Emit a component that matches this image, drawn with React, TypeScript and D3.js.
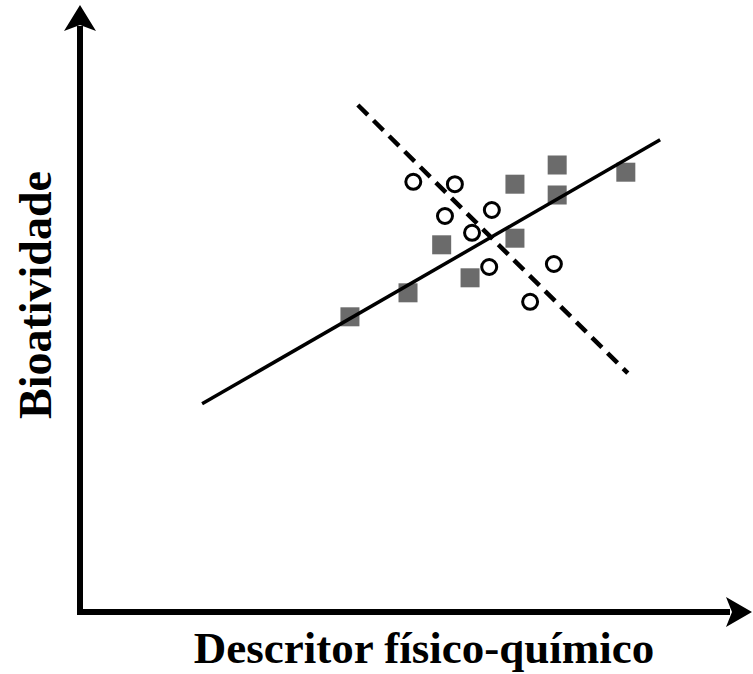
import React, { useEffect, useRef } from 'react'
import * as d3 from 'd3'

// grupo que segue a tendência (quadrados)
const squaresX = [40.9, 49.7, 54.8, 59.1, 65.9, 65.9, 72.3, 72.3, 82.7]
const squaresY = [49.2, 53.2, 61.2, 55.7, 62.3, 71.3, 74.5, 69.5, 73.3]

// grupo oposto (círculos)
const circlesX = [50.5, 56.8, 55.3, 62.4, 59.4, 62.0, 71.8, 68.2]
const circlesY = [71.7, 71.3, 66.0, 67.0, 63.2, 57.5, 58.0, 51.7]

// retas de regressão: [x0, y0, x1, y1]
const solidLine = [18.5, 34.7, 87.9, 78.7]
const dashedLine = [42.1, 84.5, 83.0, 39.8]

const xLabel = 'Descritor físico-químico'
const yLabel = 'Bioatividade'

const App = () => {
  const svgRef = useRef<SVGSVGElement>(null)

  useEffect(() => {
    const width = 753
    const height = 674
    const svg = d3.select(svgRef.current).attr('width', width).attr('height', height)
    svg.selectAll('*').remove()

    const x = d3.scaleLinear().domain([0, 100]).range([80, 740])
    const y = d3.scaleLinear().domain([0, 100]).range([612, 12])

    const font = '"Liberation Serif", "Times New Roman", serif'

    // eixos com setas
    svg
      .append('line')
      .attr('x1', x(0))
      .attr('y1', y(0) + 3)
      .attr('x2', x(0))
      .attr('y2', 26)
      .attr('stroke', '#000')
      .attr('stroke-width', 6)
    svg
      .append('path')
      .attr('d', `M${x(0)},5 L${x(0) + 16},31 L${x(0)},25 L${x(0) - 16},31 Z`)
      .attr('fill', '#000')

    svg
      .append('line')
      .attr('x1', x(0) - 3)
      .attr('y1', y(0))
      .attr('x2', 730)
      .attr('y2', y(0))
      .attr('stroke', '#000')
      .attr('stroke-width', 6)
    svg
      .append('path')
      .attr('d', `M752,${y(0)} L726,${y(0) - 15} L732,${y(0)} L726,${y(0) + 15} Z`)
      .attr('fill', '#000')

    // linha tracejada
    svg
      .append('line')
      .attr('x1', x(dashedLine[0]))
      .attr('y1', y(dashedLine[1]))
      .attr('x2', x(dashedLine[2]))
      .attr('y2', y(dashedLine[3]))
      .attr('stroke', '#000')
      .attr('stroke-width', 4.5)
      .attr('stroke-dasharray', '14,8')

    // quadrados
    const s = 19
    svg
      .selectAll('rect.sq')
      .data(squaresX)
      .enter()
      .append('rect')
      .attr('class', 'sq')
      .attr('x', (d) => x(d) - s / 2)
      .attr('y', (d, i) => y(squaresY[i]) - s / 2)
      .attr('width', s)
      .attr('height', s)
      .attr('fill', '#6b6b6b')

    svg
      .append('line')
      .attr('x1', x(solidLine[0]))
      .attr('y1', y(solidLine[1]))
      .attr('x2', x(solidLine[2]))
      .attr('y2', y(solidLine[3]))
      .attr('stroke', '#000')
      .attr('stroke-width', 3.5)

    // círculos
    svg
      .selectAll('circle.ci')
      .data(circlesX)
      .enter()
      .append('circle')
      .attr('class', 'ci')
      .attr('cx', (d) => x(d))
      .attr('cy', (d, i) => y(circlesY[i]))
      .attr('r', 7.5)
      .attr('fill', '#fff')
      .attr('stroke', '#000')
      .attr('stroke-width', 3)

    // títulos
    svg
      .append('text')
      .text(xLabel)
      .attr('x', 424)
      .attr('y', 663)
      .attr('text-anchor', 'middle')
      .style('font-family', font)
      .style('font-weight', 'bold')
      .style('font-size', '45px')

    svg
      .append('text')
      .text(yLabel)
      .attr('transform', 'translate(51,295) rotate(-90)')
      .attr('text-anchor', 'middle')
      .style('font-family', font)
      .style('font-weight', 'bold')
      .style('font-size', '46px')
  }, [])

  return <svg ref={svgRef} style={{ position: 'absolute', left: 0, top: 0 }}></svg>
}

export default App
